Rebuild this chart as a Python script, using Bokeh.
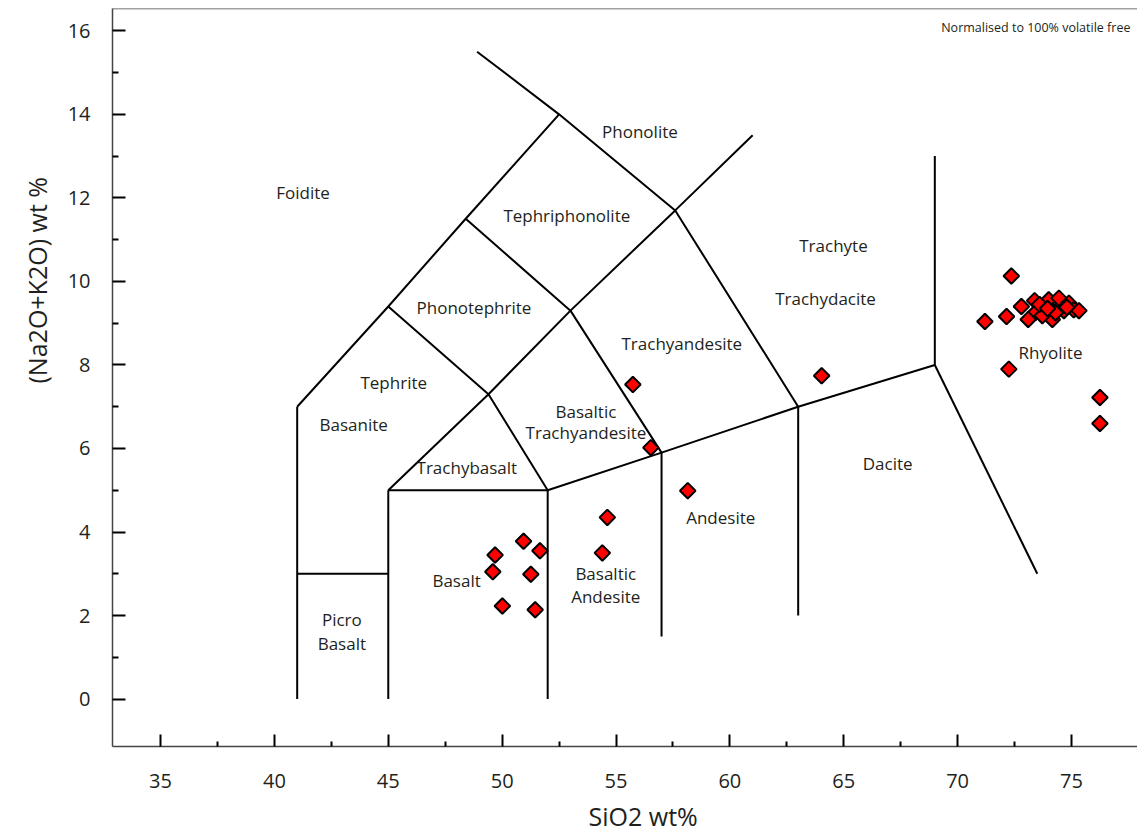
import numpy as np
from bokeh.plotting import figure
from bokeh.models import FixedTicker, Range1d, Span, Title
from bokeh.core.properties import value
from bokeh.embed import file_html
from bokeh.resources import INLINE

# ---- sample data (SiO2 wt%, Na2O+K2O wt%) ----
sio2 = [54.62, 50.94, 51.66, 49.69, 49.59, 51.26, 54.40, 50.01, 51.45,
        55.74, 56.53, 58.15, 64.03,
        72.36, 71.20, 72.15, 72.25, 76.25, 76.25,
        72.80, 73.38, 73.86, 74.52, 73.43, 73.10, 74.16, 74.00, 74.45,
        74.89, 75.10, 75.33, 73.72, 74.67, 73.60, 74.30, 73.95, 74.80]
alk = [4.35, 3.78, 3.55, 3.45, 3.05, 2.99, 3.50, 2.23, 2.14,
       7.53, 6.02, 4.99, 7.74,
       10.13, 9.04, 9.16, 7.90, 7.22, 6.60,
       9.40, 9.54, 9.46, 9.40, 9.26, 9.09, 9.09, 9.56, 9.60,
       9.48, 9.32, 9.30, 9.18, 9.30, 9.45, 9.25, 9.35, 9.38]

# ---- TAS field boundaries ----
boundary_x = [
    [41, 41], [41, 45], [45, 45], [45, 52], [52, 52], [57, 57], [63, 63],
    [52, 57, 63, 69], [69, 73.5], [69, 69],
    [41, 45, 48.4, 52.5, 57.6, 61], [45, 49.4, 52], [45, 49.4, 53, 57],
    [48.4, 53, 57.6, 63], [52.5, 48.9],
]
boundary_y = [
    [0, 7], [3, 3], [0, 5], [5, 5], [0, 5], [1.5, 5.9], [2, 7],
    [5, 5.9, 7, 8], [8, 3], [8, 13],
    [7, 9.4, 11.5, 14, 11.7, 13.5], [5, 7.3, 5], [9.4, 7.3, 9.3, 5.9],
    [11.5, 9.3, 11.7, 7], [14, 15.5],
]

# ---- field names ----
field_names = ["Foidite", "Phonolite", "Tephriphonolite", "Trachyte", "Trachydacite",
               "Phonotephrite", "Trachyandesite", "Tephrite", "Basanite",
               "Basaltic", "Trachyandesite", "Rhyolite", "Trachybasalt", "Dacite",
               "Andesite", "Basalt", "Basaltic", "Andesite", "Picro", "Basalt"]
field_x = [41.26, 56.05, 52.84, 64.55, 64.20,
           48.76, 57.89, 45.24, 43.48,
           53.68, 53.68, 74.08, 48.45, 66.93,
           59.60, 48.00, 54.55, 54.55, 42.96, 42.96]
field_y = [12.13, 13.59, 11.58, 10.86, 9.59,
           9.37, 8.51, 7.58, 6.57,
           6.88, 6.38, 8.29, 5.54, 5.64,
           4.35, 2.84, 3.00, 2.45, 1.90, 1.33]

x_ticks = [35, 40, 45, 50, 55, 60, 65, 70, 75]
x_minor = [37.5, 42.5, 47.5, 52.5, 57.5, 62.5, 67.5, 72.5]
y_ticks = [0, 2, 4, 6, 8, 10, 12, 14, 16]
y_minor = [1, 3, 5, 7, 9, 11, 13, 15]

X_RANGE = (32.89, 77.90)
Y_RANGE = (-1.135, 16.534)

FONT = "Open Sans"
TXT = "#231f20"

p = figure(frame_width=1025, frame_height=738,
           x_range=Range1d(*X_RANGE), y_range=Range1d(*Y_RANGE),
           output_backend="svg", toolbar_location=None,
           min_border_left=112, min_border_right=0, min_border_top=8,
           min_border_bottom=86)
p.outline_line_color = None
p.xgrid.visible = False
p.ygrid.visible = False
p.background_fill_color = "white"
p.border_fill_color = "white"

for ax, tk, mn, tin, min_in in ((p.xaxis[0], x_ticks, x_minor, 12, 5),
                                (p.yaxis[0], y_ticks, y_minor, 13, 6)):
    ax.ticker = FixedTicker(ticks=tk, minor_ticks=mn)
    ax.major_tick_in = tin
    ax.major_tick_out = 0
    ax.minor_tick_in = min_in
    ax.minor_tick_out = 0
    ax.major_tick_line_width = 2
    ax.minor_tick_line_width = 2
    ax.major_tick_line_color = "black"
    ax.minor_tick_line_color = "black"
    ax.axis_line_color = "#444444"
    ax.axis_line_width = 1.5
    ax.major_label_text_font = FONT
    ax.major_label_text_font_size = "20px"
    ax.major_label_text_color = TXT

p.xaxis.major_label_standoff = 27
p.yaxis.major_label_standoff = 22

# axis titles, placed like in the reference
p.add_layout(Title(text="SiO2 wt%", align="left", offset=476, standoff=12,
                   text_font=FONT, text_font_size="25px",
                   text_font_style="normal", text_color=TXT), "below")
p.add_layout(Title(text="(Na2O+K2O) wt %", align="left", offset=363, standoff=22,
                   text_font=FONT, text_font_size="25px",
                   text_font_style="normal", text_color=TXT), "left")

p.add_layout(Span(location=Y_RANGE[1], dimension="width",
                  line_color="#444444", line_width=1.5))

p.multi_line(boundary_x, boundary_y, line_color="black", line_width=2)

p.text(field_x, field_y, text=field_names, text_align="center",
       text_baseline="middle", text_font=value(FONT),
       text_font_size="17px", text_color=TXT)

p.text([77.59], [16.08], text=["Normalised to 100% volatile free"],
       text_align="right", text_baseline="middle", text_font=value(FONT),
       text_font_size="12.5px", text_color=TXT)

p.scatter(sio2, alk, marker="square", angle=np.pi / 4, size=11,
          fill_color="#ff0000", line_color="black", line_width=2)

open("out.html", "w").write(file_html(p, INLINE))
